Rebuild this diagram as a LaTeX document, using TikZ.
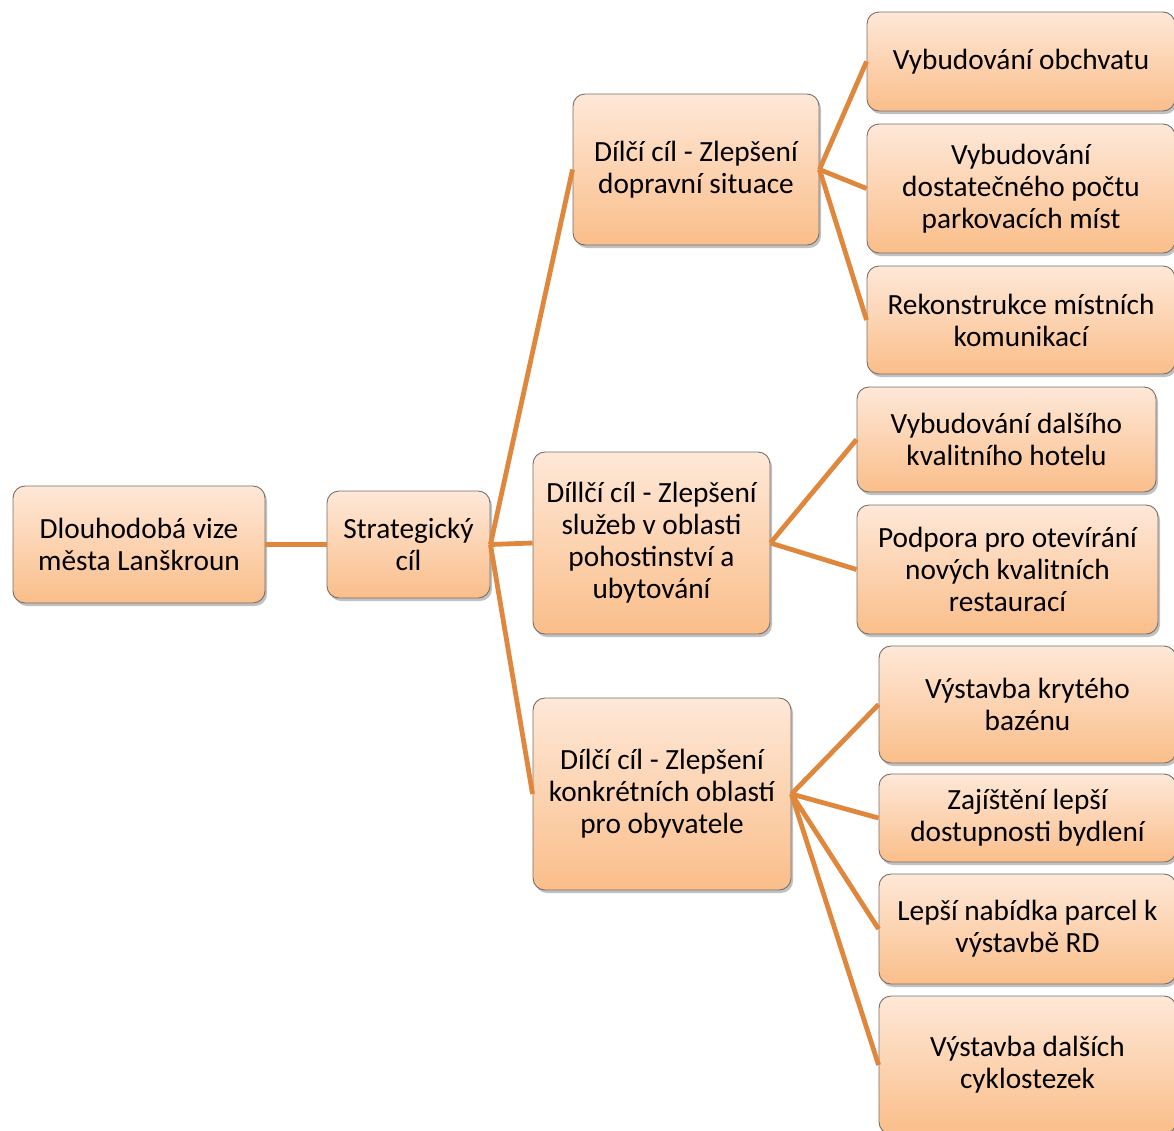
\documentclass[tikz,border=0pt]{standalone}
\usepackage{fontspec}
\setmainfont{Carlito}
\usetikzlibrary{shadows}
\definecolor{linec}{RGB}{224,135,62}
\definecolor{boxtop}{RGB}{254,232,216}
\definecolor{boxbot}{RGB}{250,190,138}
\definecolor{boxline}{RGB}{120,110,104}
\begin{document}
\begin{tikzpicture}[x=1pt,y=-1pt,
  box/.style={draw=boxline, line width=0.9pt, rounded corners=12pt,
    top color=boxtop, bottom color=boxbot, align=center, inner sep=0pt,
    font=\fontsize{29.3}{32}\selectfont,
    drop shadow={shadow xshift=2pt, shadow yshift=-3pt, opacity=0.35, fill=black!70}},
  conn/.style={draw=linec, line width=4.8pt}]
\useasboundingbox (0,0) rectangle (1174,1130);
\begin{scope}
\clip (0,0) rectangle (1174,1130);
\node[box, minimum width=252pt, minimum height=117pt] (A) at (139,544.5) {Dlouhodobá vize\\města Lanškroun};
\node[box, minimum width=163pt, minimum height=107pt] (B) at (408.5,544.5) {Strategický\\cíl};
\node[box, minimum width=246pt, minimum height=151pt] (C1) at (696,169.5) {Dílčí cíl - Zlepšení\\dopravní situace};
\node[box, minimum width=237pt, minimum height=182pt] (C2) at (651.5,543) {Díllčí cíl - Zlepšení\\služeb v oblasti\\pohostinství a\\ubytování};
\node[box, minimum width=258pt, minimum height=192pt] (C3) at (662,794) {Dílčí cíl - Zlepšení\\konkrétních oblastí\\pro obyvatele};
\node[box, minimum width=308pt, minimum height=99pt] (D1) at (1021,61.5) {Vybudování obchvatu};
\node[box, minimum width=308pt, minimum height=129pt] (D2) at (1021,188.5) {Vybudování\\dostatečného počtu\\parkovacích míst};
\node[box, minimum width=308pt, minimum height=108pt] (D3) at (1021,320) {Rekonstrukce místních\\komunikací};
\node[box, minimum width=299pt, minimum height=105pt] (E1) at (1006.5,439.5) {Vybudování dalšího\\kvalitního hotelu};
\node[box, minimum width=301pt, minimum height=129pt] (E2) at (1007.5,569.5) {Podpora pro otevírání\\nových kvalitních\\restaurací};
\node[box, minimum width=297pt, minimum height=117pt] (F1) at (1027.5,704.5) {Výstavba krytého\\bazénu};
\node[box, minimum width=297pt, minimum height=88pt] (F2) at (1027.5,818) {Zajíštění lepší\\dostupnosti bydlení};
\node[box, minimum width=297pt, minimum height=110pt] (F3) at (1027.5,929) {Lepší nabídka parcel k\\výstavbě RD};
\node[box, minimum width=297pt, minimum height=138pt] (F4) at (1027.5,1065) {Výstavba dalších\\cyklostezek};
\path[conn] (A.east) -- (B.west);
\path[conn] (B.east) -- (C1.west);
\path[conn] (B.east) -- (C2.west);
\path[conn] (B.east) -- (C3.west);
\path[conn] (C1.east) -- (D1.west);
\path[conn] (C1.east) -- (D2.west);
\path[conn] (C1.east) -- (D3.west);
\path[conn] (C2.east) -- (E1.west);
\path[conn] (C2.east) -- (E2.west);
\path[conn] (C3.east) -- (F1.west);
\path[conn] (C3.east) -- (F2.west);
\path[conn] (C3.east) -- (F3.west);
\path[conn] (C3.east) -- (F4.west);
\end{scope}
\end{tikzpicture}
\end{document}
